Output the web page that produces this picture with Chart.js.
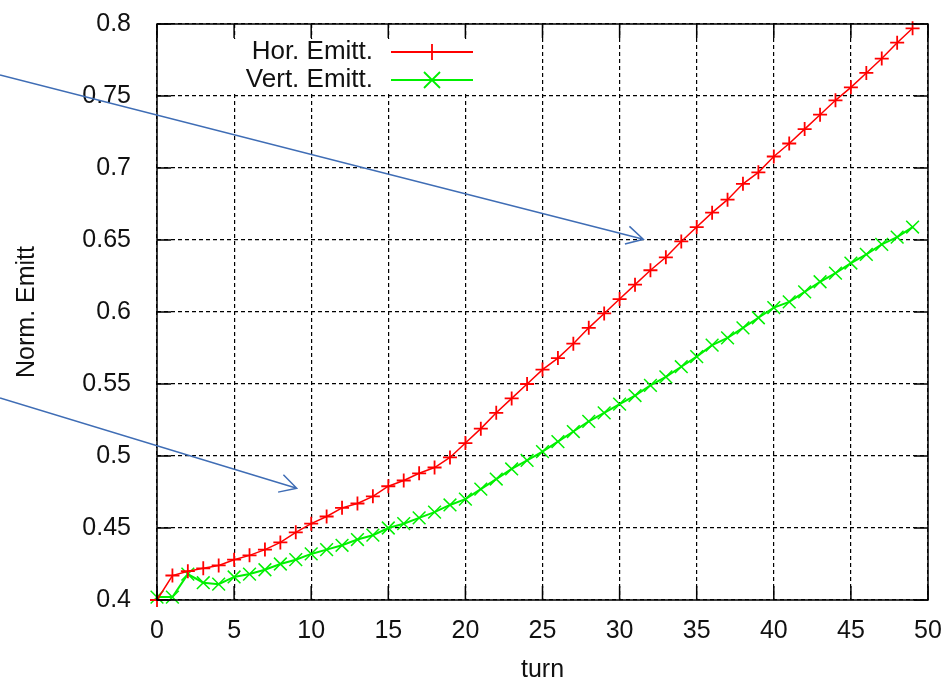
<!DOCTYPE html>
<html>
<head>
<meta charset="utf-8">
<script src="https://cdn.jsdelivr.net/npm/chart.js@4.4.0/dist/chart.umd.min.js"></script>
<style>
  html, body { margin: 0; padding: 0; background: #fff; }
  #wrap { width: 951px; height: 681px; }
</style>
</head>
<body>
<div id="wrap"><canvas id="emitt" width="951" height="681"></canvas></div>
<script>
// values
var turns = [0, 1, 2, 3, 4, 5, 6, 7, 8, 9,
             10, 11, 12, 13, 14, 15, 16, 17, 18, 19,
             20, 21, 22, 23, 24, 25, 26, 27, 28, 29,
             30, 31, 32, 33, 34, 35, 36, 37, 38, 39,
             40, 41, 42, 43, 44, 45, 46, 47, 48, 49];
var horEmitt = [0.400, 0.417, 0.420, 0.422, 0.424, 0.428, 0.431, 0.435, 0.440, 0.447,
                0.453, 0.458, 0.464, 0.467, 0.472, 0.479, 0.483, 0.488, 0.492, 0.499,
                0.509, 0.519, 0.530, 0.540, 0.550, 0.560, 0.568, 0.578, 0.589, 0.599,
                0.609, 0.619, 0.629, 0.638, 0.649, 0.659, 0.669, 0.678, 0.689, 0.697,
                0.708, 0.717, 0.727, 0.737, 0.747, 0.756, 0.766, 0.776, 0.787, 0.797];
var vertEmitt = [0.402, 0.402, 0.418, 0.412, 0.411, 0.416, 0.418, 0.421, 0.425, 0.428,
                 0.432, 0.435, 0.438, 0.442, 0.445, 0.450, 0.453, 0.457, 0.461, 0.466,
                 0.470, 0.477, 0.484, 0.491, 0.497, 0.503, 0.510, 0.517, 0.524, 0.530,
                 0.536, 0.542, 0.549, 0.555, 0.562, 0.569, 0.577, 0.582, 0.589, 0.596,
                 0.603, 0.607, 0.614, 0.621, 0.627, 0.634, 0.640, 0.647, 0.652, 0.659];
var seriesNames = ['Hor. Emitt.', 'Vert. Emitt.'];
var xTicks = [0, 5, 10, 15, 20, 25, 30, 35, 40, 45, 50];
var yTicks = [0.4, 0.45, 0.5, 0.55, 0.6, 0.65, 0.7, 0.75, 0.8];

var FONT = "'Liberation Sans', Arial, sans-serif";
var RED = '#ff0000', GREEN = '#00f000', ARROW = '#3f6db5';

function points(ys) {
  return turns.map(function(t, i){ return {x: t, y: ys[i]}; });
}

// gnuplot style frame, inward ticks and the opaque key
var gnuFrame = {
  id: 'gnuFrame',
  afterDatasetsDraw: function(chart){
    var ctx = chart.ctx, a = chart.chartArea;
    var xs = chart.scales.x, ys = chart.scales.y;
    ctx.save();
    ctx.setLineDash([]);
    ctx.strokeStyle = '#000';
    ctx.lineWidth = 1.5;
    ctx.strokeRect(a.left, a.top, a.right - a.left, a.bottom - a.top);
    ctx.beginPath();
    xTicks.forEach(function(v){
      var px = xs.getPixelForValue(v);
      ctx.moveTo(px, a.bottom); ctx.lineTo(px, a.bottom - 14);
      ctx.moveTo(px, a.top); ctx.lineTo(px, a.top + 14);
    });
    yTicks.forEach(function(v){
      var py = ys.getPixelForValue(v);
      ctx.moveTo(a.left, py); ctx.lineTo(a.left + 14, py);
      ctx.moveTo(a.right, py); ctx.lineTo(a.right - 14, py);
    });
    ctx.stroke();

    // key
    ctx.fillStyle = '#fff';
    ctx.fillRect(a.left + 1, a.top + 15, 330, 54);
    ctx.font = '26px ' + FONT;
    ctx.textAlign = 'right';
    ctx.textBaseline = 'middle';
    var ds = chart.data.datasets;
    for (var i = 0; i < ds.length; i++) {
      var ty = a.top + 28 + i * 28;
      ctx.fillStyle = '#111';
      ctx.fillText(ds[i].label, a.left + 216, ty);
      ctx.strokeStyle = ds[i].borderColor;
      ctx.lineWidth = 1.8;
      ctx.beginPath();
      ctx.moveTo(a.left + 234, ty); ctx.lineTo(a.left + 316, ty);
      var cx = a.left + 275, r = 8;
      if (ds[i].pointStyle === 'cross') {
        ctx.moveTo(cx, ty - r); ctx.lineTo(cx, ty + r);
      } else {
        ctx.moveTo(cx - r, ty - r); ctx.lineTo(cx + r, ty + r);
        ctx.moveTo(cx - r, ty + r); ctx.lineTo(cx + r, ty - r);
      }
      ctx.stroke();
    }
    ctx.restore();
  },
  // the two pointer arrows pasted on the slide
  afterDraw: function(chart){
    var ctx = chart.ctx, xs = chart.scales.x, ys = chart.scales.y;
    var arrows = [
      {from: [-10.18, 0.7646], to: [31.54, 0.6505]},
      {from: [-10.18, 0.5403], to: [9.06, 0.4776]}
    ];
    ctx.save();
    ctx.strokeStyle = ARROW;
    ctx.lineWidth = 1.5;
    arrows.forEach(function(ar){
      var x0 = xs.getPixelForValue(ar.from[0]), y0 = ys.getPixelForValue(ar.from[1]);
      var x1 = xs.getPixelForValue(ar.to[0]), y1 = ys.getPixelForValue(ar.to[1]);
      var ang = Math.atan2(y1 - y0, x1 - x0), len = 19, spread = 0.5;
      ctx.beginPath();
      ctx.moveTo(x0, y0); ctx.lineTo(x1, y1);
      ctx.moveTo(x1 - len * Math.cos(ang - spread), y1 - len * Math.sin(ang - spread));
      ctx.lineTo(x1, y1);
      ctx.lineTo(x1 - len * Math.cos(ang + spread), y1 - len * Math.sin(ang + spread));
      ctx.stroke();
    });
    ctx.restore();
  }
};

var ctx = document.getElementById('emitt');
var emittChart = new Chart(ctx, {
  type: 'line',
  data: {
    datasets: [
      {
        label: seriesNames[0],
        data: points(horEmitt),
        borderColor: RED,
        borderWidth: 1.5,
        pointStyle: 'cross',
        pointRadius: 7,
        pointBorderWidth: 1.8,
        pointBorderColor: RED,
        pointBackgroundColor: RED,
        tension: 0,
        clip: false
      },
      {
        label: seriesNames[1],
        data: points(vertEmitt),
        borderColor: GREEN,
        borderWidth: 2,
        pointStyle: 'crossRot',
        pointRadius: 9,
        pointBorderWidth: 1.5,
        pointBorderColor: GREEN,
        pointBackgroundColor: GREEN,
        tension: 0,
        clip: false
      }
    ]
  },
  options: {
    responsive: false,
    animation: false,
    devicePixelRatio: 1,
    layout: { padding: { left: 0, right: 23, top: 24, bottom: 0 } },
    plugins: {
      legend: { display: false },
      tooltip: { enabled: false }
    },
    scales: {
      x: {
        type: 'linear',
        min: 0, max: 50,
        afterBuildTicks: function(s){ s.ticks = xTicks.map(function(v){ return {value: v}; }); },
        afterFit: function(s){ s.height = 81; s.paddingLeft = 0; s.paddingRight = 0; },
        grid: { color: '#000', lineWidth: 1.2, drawTicks: false },
        border: { display: false, dash: [4, 3] },
        ticks: {
          padding: 16, color: '#111', maxRotation: 0,
          font: { family: FONT, size: 25 },
          callback: function(v){ return String(v); }
        },
        title: {
          display: true, text: 'turn', color: '#111',
          font: { family: FONT, size: 25 },
          padding: { top: 0, bottom: -4 }
        }
      },
      y: {
        type: 'linear',
        min: 0.4, max: 0.8,
        afterBuildTicks: function(s){ s.ticks = yTicks.map(function(v){ return {value: v}; }); },
        afterFit: function(s){ s.width = 157; s.paddingTop = 0; s.paddingBottom = 0; },
        grid: { color: '#000', lineWidth: 1.2, drawTicks: false },
        border: { display: false, dash: [4, 3] },
        ticks: {
          padding: 26, color: '#111',
          font: { family: FONT, size: 25 },
          callback: function(v){ return String(v); }
        },
        title: {
          display: true, text: 'Norm. Emitt', color: '#111',
          font: { family: FONT, size: 25 },
          padding: { top: 12, bottom: 0 }
        }
      }
    }
  },
  plugins: [gnuFrame]
});
</script>
</body>
</html>
